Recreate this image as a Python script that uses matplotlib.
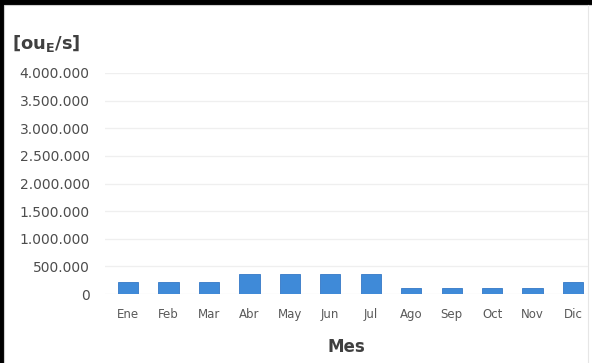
import matplotlib.pyplot as plt
from matplotlib.patches import Rectangle

# monthly values
meses = ["Ene", "Feb", "Mar", "Abr", "May", "Jun", "Jul", "Ago", "Sep", "Oct", "Nov", "Dic"]
valores = [210000, 210000, 210000, 370000, 370000, 370000, 370000,
           110000, 110000, 110000, 110000, 210000]
yticks = [0, 500000, 1000000, 1500000, 2000000, 2500000, 3000000, 3500000, 4000000]
ytick_labels = ["0", "500.000", "1.000.000", "1.500.000", "2.000.000",
                "2.500.000", "3.000.000", "3.500.000", "4.000.000"]

W, H = 592, 363
fig = plt.figure(figsize=(W / 100, H / 100), dpi=100, facecolor="black")

# white panel inside the black frame (top and left edges only)
fig.patches.append(Rectangle((4 / W, -0.01), 1.0, (H - 5) / H + 0.01,
                             transform=fig.transFigure, facecolor="white",
                             edgecolor="#d0d0d0", linewidth=0.8, zorder=-5))
fig.add_artist(plt.Line2D([587.5 / W, 587.5 / W], [0, (H - 5) / H],
                          transform=fig.transFigure, color="#e6e6e6", linewidth=0.8, zorder=-4))

# axes: x 105..588 px, y 73..294 px
ax = fig.add_axes([105 / W, (H - 294) / H, (588 - 105) / W, (294 - 73) / H])
ax.set_facecolor("none")
x = list(range(len(meses)))
ax.bar(x, valores, width=0.5, color="#3f8ad8", edgecolor="#3478c6", linewidth=0.6, zorder=3)

ax.set_xlim(-0.569, 11.37)
ax.set_ylim(0, 4000000)
ax.set_yticks(yticks)
ax.set_yticklabels(ytick_labels, fontsize=10, color="#4d4d4d")
ax.set_xticks(x)
ax.set_xticklabels(meses, fontsize=8.5, color="#595959")
ax.tick_params(axis="both", length=0)
ax.tick_params(axis="y", pad=11)
ax.tick_params(axis="x", pad=10)
ax.grid(axis="y", color="#efefef", linewidth=0.9, zorder=0)
for s in ax.spines.values():
    s.set_visible(False)

ax.set_xlabel("Mes", fontsize=12, fontweight="bold", color="#404040", labelpad=12)

fig.text(12 / W, 1 - 43 / H, r"[ou$_\mathregular{E}$/s]", fontsize=13, fontweight="bold",
         color="#404040", ha="left", va="center")

fig.savefig("out.png", dpi=100, facecolor=fig.get_facecolor())
